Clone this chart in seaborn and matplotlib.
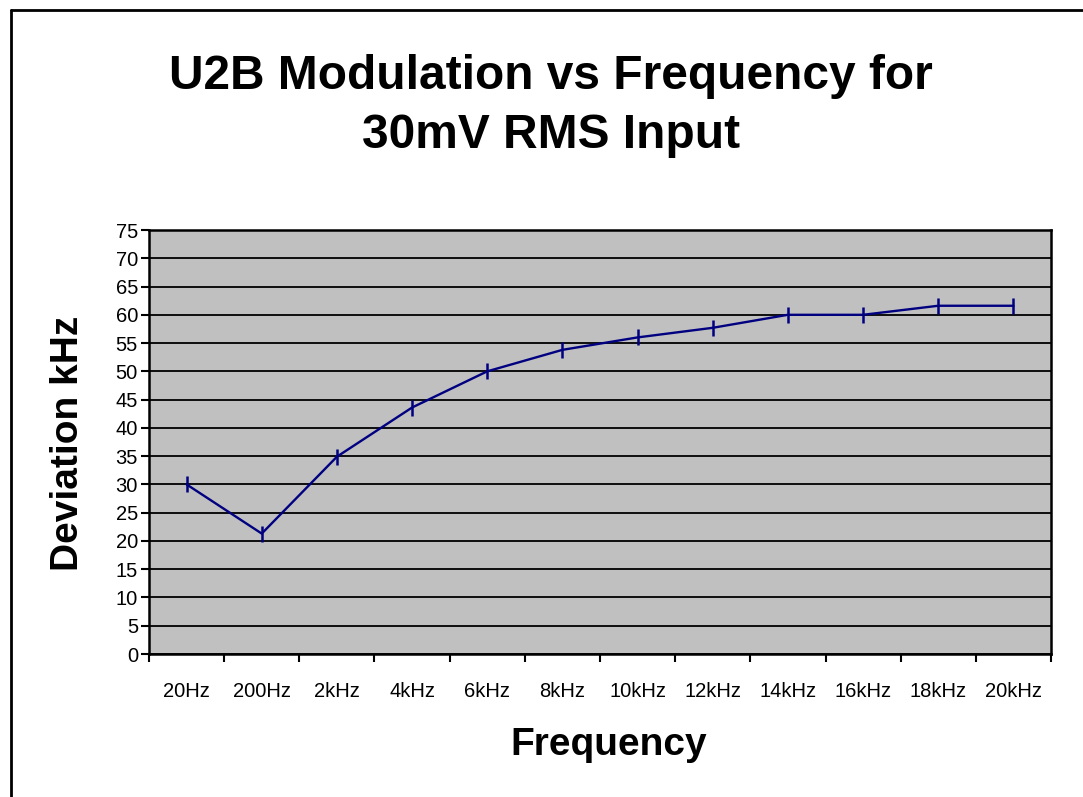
# U2B modulation vs frequency, Excel-style line chart
import numpy as np
import pandas as pd
import seaborn as sns
import matplotlib
matplotlib.use("Agg")
import matplotlib.pyplot as plt
from matplotlib.lines import Line2D

# data
frequencies = ['20Hz', '200Hz', '2kHz', '4kHz', '6kHz', '8kHz',
               '10kHz', '12kHz', '14kHz', '16kHz', '18kHz', '20kHz']
deviation_khz = [30, 21.3, 34.9, 43.6, 50, 53.8, 56, 57.7, 60, 60, 61.6, 61.6]
y_ticks = list(range(0, 80, 5))

df = pd.DataFrame({'Frequency': frequencies, 'Deviation': deviation_khz})

sns.set_style('white')
plt.rcParams['font.family'] = ['Liberation Sans', 'DejaVu Sans']
plt.rcParams['text.color'] = 'black'
plt.rcParams['xtick.color'] = 'black'
plt.rcParams['ytick.color'] = 'black'
plt.rcParams['xtick.bottom'] = True
plt.rcParams['ytick.left'] = True

fig = plt.figure(figsize=(10.83, 7.97), dpi=100)
ax = fig.add_axes([149/1083, 1 - 654/797, (1051-149)/1083, (654-230)/797])
ax.set_facecolor('#C0C0C0')

sns.lineplot(data=df, x='Frequency', y='Deviation', sort=False, ax=ax,
             color='#000080', linewidth=1.7, marker='|', markersize=11,
             markeredgewidth=1.8, markeredgecolor='#000080')

ax.set_xlim(-0.5, len(frequencies) - 0.5)
ax.set_ylim(0, 75)
ax.set_yticks(y_ticks)
ax.set_xticks(range(len(frequencies)))
ax.set_xticklabels(frequencies)
ax.set_xticks(np.arange(-0.5, len(frequencies), 1), minor=True)
ax.tick_params(axis='x', which='major', bottom=True, length=0, labelsize=14.5,
               pad=20, labelcolor='black')
ax.tick_params(axis='x', which='minor', bottom=True, length=6, width=1.5,
               direction='out', color='black')
ax.tick_params(axis='y', left=True, length=6, width=1.5, direction='out', color='black',
               labelsize=14.5, pad=2, labelcolor='black')
ax.yaxis.grid(True, color='black', linewidth=1.3)
ax.set_axisbelow(True)
for s in ax.spines.values():
    s.set_color('black')
    s.set_linewidth(1.8)

ax.set_xlabel('')
ax.set_ylabel('')
fig.text(609/1083, 1 - 745/797, 'Frequency', ha='center', va='center',
         fontsize=28, fontweight='bold', color='black')
fig.text(68/1083, 1 - 443/797, 'Deviation kHz', ha='center', va='center',
         rotation=90, fontsize=28, fontweight='bold', color='black')
fig.text(551/1083, 1 - 106/797, 'U2B Modulation vs Frequency for\n30mV RMS Input',
         ha='center', va='center', fontsize=34.5, fontweight='bold', linespacing=1.4,
         color='black')

# chart border (left and top edges visible)
fig.add_artist(Line2D([11/1083, 11/1083], [0, 1 - 10/797], transform=fig.transFigure,
                      color='black', linewidth=2))
fig.add_artist(Line2D([11/1083, 1], [1 - 10/797, 1 - 10/797], transform=fig.transFigure,
                      color='black', linewidth=2))

fig.savefig('out.png', dpi=100, facecolor='white')
